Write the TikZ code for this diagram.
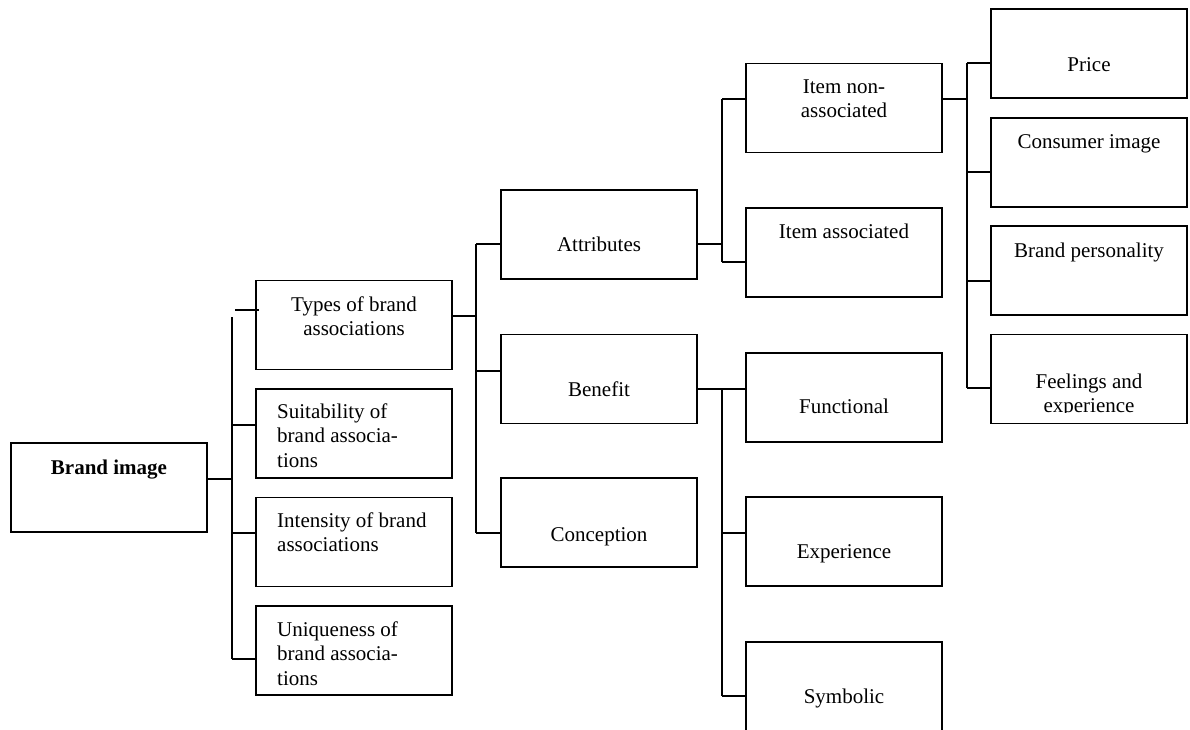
\documentclass[tikz,border=0pt]{standalone}
\usepackage{fontspec}
\setmainfont{Liberation Serif}
\newcommand{\mlc}[1]{\begin{tabular}[t]{@{}c@{}}#1\end{tabular}}
\newcommand{\mll}[1]{\begin{tabular}[t]{@{}l@{}}#1\end{tabular}}
\begin{document}
\begin{tikzpicture}[x=1pt,y=-1pt,
  box/.style={draw, line width=1.2pt, minimum width=196pt, minimum height=89pt, inner sep=0pt},
  lbl/.style={inner sep=0pt, font=\fontsize{21}{24.5}\selectfont},
  conn/.style={line width=1.2pt}]
\useasboundingbox (0,0) rectangle (1190,729);
\fill[white] (0,0) rectangle (1190,729);
\clip (0,0) rectangle (1190,729);

% boxes
\node[box] (brand) at (109,487.5) {};
\node[box] (types) at (354,325) {};
\node[box] (suit) at (354,433.5) {};
\node[box] (inten) at (354,542) {};
\node[box] (uniq) at (354,650.5) {};
\node[box] (attr) at (599,234.5) {};
\node[box] (bene) at (599,379) {};
\node[box] (conc) at (599,522.5) {};
\node[box] (itemnon) at (844,108) {};
\node[box] (itemas) at (844,252.5) {};
\node[box] (func) at (844,397.5) {};
\node[box] (exper) at (844,541.5) {};
\node[box] (symb) at (844,686.5) {};
\node[box] (price) at (1089,53.5) {};
\node[box] (cons) at (1089,162.5) {};
\node[box] (pers) at (1089,270.5) {};
\node[box] (feel) at (1089,379) {};

% texts
\node[lbl, anchor=base] (tbrand) at (109,474) {\bfseries Brand image};
\node[lbl, anchor=base] (ttypes) at (354,311) {\mlc{Types of brand\\associations}};
\node[lbl, anchor=base west] (tsuit) at (277,418) {\mll{Suitability of\\brand associa-\\tions}};
\node[lbl, anchor=base west] (tinten) at (277,527) {\mll{Intensity of brand\\associations}};
\node[lbl, anchor=base west] (tuniq) at (277,636) {\mll{Uniqueness of\\brand associa-\\tions}};
\node[lbl, anchor=base] (tattr) at (599,251) {Attributes};
\node[lbl, anchor=base] (tbene) at (599,396) {Benefit};
\node[lbl, anchor=base] (tconc) at (599,541) {Conception};
\node[lbl, anchor=base] (titemnon) at (844,93) {\mlc{Item non-\\associated}};
\node[lbl, anchor=base] (titemas) at (844,238) {Item associated};
\node[lbl, anchor=base] (tfunc) at (844,413) {Functional};
\node[lbl, anchor=base] (texper) at (844,558) {Experience};
\node[lbl, anchor=base] (tsymb) at (844,703) {Symbolic};
\node[lbl, anchor=base] (tprice) at (1089,71) {Price};
\node[lbl, anchor=base] (tcons) at (1089,148) {Consumer image};
\node[lbl, anchor=base] (tpers) at (1089,257) {Brand personality};
\begin{scope}
\clip (991,334) rectangle (1187,412);
\node[lbl, anchor=base] (tfeel) at (1089,388) {\mlc{Feelings and\\experience}};
\end{scope}

% connectors: brand image
\coordinate (a0) at (232,479);
\coordinate (a1) at (232,317);
\coordinate (a2) at (232,425);
\coordinate (a3) at (232,533);
\coordinate (a4) at (232,659);
\coordinate (s1) at (235,310);
\draw[conn] (brand.east |- a0) -- (a0);
\draw[conn] (a1) -- (a4);
\draw[conn] (s1) -- ([xshift=4pt]s1 -| types.west);
\draw[conn] (a2) -- (a2 -| suit.west);
\draw[conn] (a3) -- (a3 -| inten.west);
\draw[conn] (a4) -- (a4 -| uniq.west);

% types
\coordinate (b0) at (476,316);
\coordinate (b1) at (476,244);
\coordinate (b2) at (476,371);
\coordinate (b3) at (476,533);
\draw[conn] (types.east |- b0) -- (b0);
\draw[conn] (b1) -- (b3);
\draw[conn] (b1) -- (b1 -| attr.west);
\draw[conn] (b2) -- (b2 -| bene.west);
\draw[conn] (b3) -- (b3 -| conc.west);

% attributes
\coordinate (c0) at (722,244);
\coordinate (c1) at (722,99);
\coordinate (c2) at (722,262);
\draw[conn] (attr.east |- c0) -- (c0);
\draw[conn] (c1) -- (c2);
\draw[conn] (c1) -- (c1 -| itemnon.west);
\draw[conn] (c2) -- (c2 -| itemas.west);

% benefit
\coordinate (d0) at (722,389);
\coordinate (d1) at (722,533);
\coordinate (d2) at (722,696);
\draw[conn] (bene.east |- d0) -- (d0 -| func.west);
\draw[conn] (d0) -- (d2);
\draw[conn] (d1) -- (d1 -| exper.west);
\draw[conn] (d2) -- (d2 -| symb.west);

% item non-associated
\coordinate (e0) at (967,99);
\coordinate (e1) at (967,63);
\coordinate (e2) at (967,172);
\coordinate (e3) at (967,281);
\coordinate (e4) at (967,388);
\draw[conn] (itemnon.east |- e0) -- (e0);
\draw[conn] (e1) -- (e4);
\draw[conn] (e1) -- (e1 -| price.west);
\draw[conn] (e2) -- (e2 -| cons.west);
\draw[conn] (e3) -- (e3 -| pers.west);
\draw[conn] (e4) -- (e4 -| feel.west);
\end{tikzpicture}
\end{document}
